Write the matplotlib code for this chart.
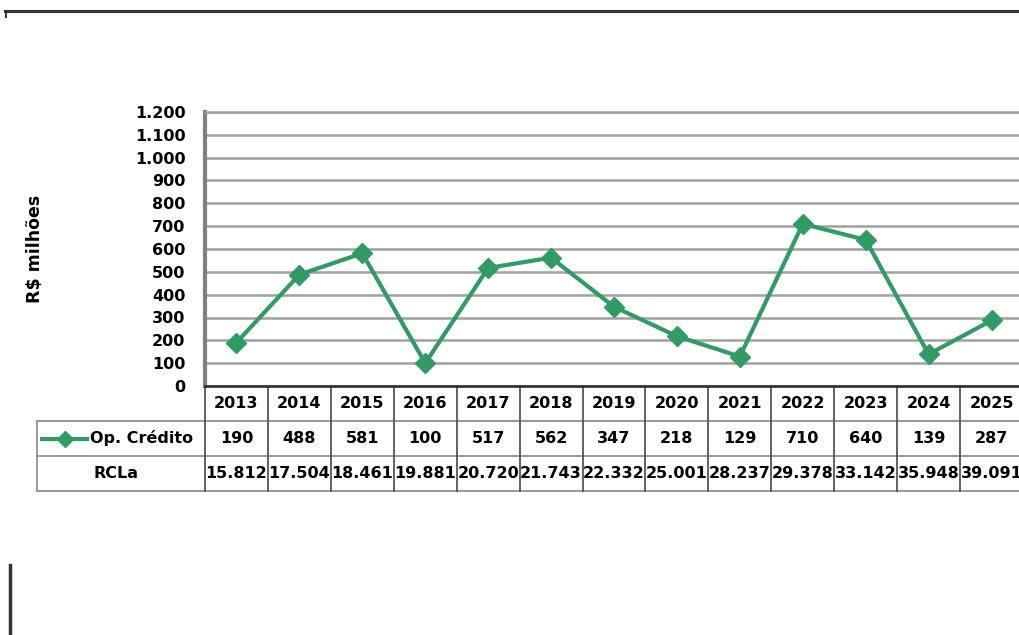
import matplotlib.pyplot as plt
from matplotlib.lines import Line2D
from matplotlib.transforms import blended_transform_factory
import numpy as np

# dados do gráfico
anos = ["2013", "2014", "2015", "2016", "2017", "2018", "2019", "2020",
        "2021", "2022", "2023", "2024", "2025"]
op_credito = [190, 488, 581, 100, 517, 562, 347, 218, 129, 710, 640, 139, 287]
rcla = [15812, 17504, 18461, 19881, 20720, 21743, 22332, 25001, 28237,
        29378, 33142, 35948, 39091]
yticks = [0, 100, 200, 300, 400, 500, 600, 700, 800, 900, 1000, 1100, 1200]

plt.rcParams['font.family'] = ['DejaVu Sans']
plt.rcParams['font.weight'] = 'bold'
fs = 11.5

verde = '#339966'
W, H = 1019, 635
fig = plt.figure(figsize=(W / 100, H / 100), dpi=100)

# área do gráfico (em pixels), vai um pouco além da borda direita
x0, x1, y_top, y_bot = 205, 1023, 112, 386
ax = fig.add_axes([x0 / W, 1 - y_bot / H, (x1 - x0) / W, (y_bot - y_top) / H])

x = np.arange(len(anos))
ax.set_xlim(-0.5, len(anos) - 0.5)
ax.set_ylim(0, 1200)
ax.set_yticks(yticks)
ax.set_yticklabels([f"{v:,}".replace(",", ".") for v in yticks], fontsize=fs, fontweight='bold')
ax.tick_params(axis='y', length=0, pad=14)
ax.set_xticks([])
for v in yticks[1:]:
    ax.axhline(v, color='#a0a0a0', lw=1.8, zorder=1)
for s in ['top', 'right']:
    ax.spines[s].set_color('#a0a0a0')
    ax.spines[s].set_linewidth(1.8)
ax.spines['left'].set_color('#808080')
ax.spines['left'].set_linewidth(3)
ax.spines['bottom'].set_color('#333333')
ax.spines['bottom'].set_linewidth(2)

ax.plot(x, op_credito, color=verde, lw=3, marker='D', markersize=10.5, zorder=3)

ax.set_ylabel("R$ milhões", fontsize=12.5, fontweight='bold')
ax.yaxis.set_label_coords(-0.197, 0.5)

# tabela de dados abaixo do eixo
tr = blended_transform_factory(ax.transData, ax.transAxes)
h = y_bot - y_top
r1, r2, r3 = -(421 - y_bot) / h, -(456 - y_bot) / h, -(491 - y_bot) / h
esq = (37 - x0) / ((x1 - x0) / len(anos)) - 0.5
cinza = '#909090'
kw = dict(transform=tr, clip_on=False, zorder=2)
ax.plot([esq, 12.5], [r1, r1], color=cinza, lw=1.3, **kw)
ax.plot([esq, 12.5], [r2, r2], color=cinza, lw=1.3, **kw)
ax.plot([esq, 12.5], [r3, r3], color=cinza, lw=1.3, **kw)
ax.plot([esq, esq], [r1, r3], color=cinza, lw=1.3, **kw)
for i in range(len(anos) + 1):
    ax.plot([i - 0.5, i - 0.5], [0, r3], color='#555555', lw=1.3, **kw)

for i in range(len(anos)):
    ax.text(i, r1 / 2, anos[i], ha='center', va='center', fontsize=fs,
            fontweight='bold', transform=tr)
    ax.text(i, (r1 + r2) / 2, str(op_credito[i]), ha='center', va='center',
            fontsize=fs, fontweight='bold', transform=tr)
    ax.text(i, (r2 + r3) / 2, f"{rcla[i]:,}".replace(",", "."), ha='center',
            va='center', fontsize=fs, fontweight='bold', transform=tr)

# legenda dentro da tabela
ly = (r1 + r2) / 2
ax.plot([esq + 0.08, esq + 0.8], [ly, ly], color=verde, lw=3, **kw)
ax.plot([esq + 0.44], [ly], color=verde, marker='D', markersize=8, **kw)
ax.text(esq + 0.84, ly, "Op. Crédito", ha='left', va='center', fontsize=fs,
        fontweight='bold', transform=tr)
ax.text(esq + 0.9, (r2 + r3) / 2, "RCLa", ha='left', va='center', fontsize=fs,
        fontweight='bold', transform=tr)

# linhas da página escaneada
fig.add_artist(Line2D([5 / W, 1], [1 - 11 / H, 1 - 11 / H], color='#333333', lw=2.2))
fig.add_artist(Line2D([6 / W, 6 / W], [1 - 11 / H, 1 - 17 / H], color='#333333', lw=1.5))
fig.add_artist(Line2D([10 / W, 10 / W], [1 - 565 / H, 0], color='#333333', lw=2.5))

fig.savefig("out.png", dpi=100)
